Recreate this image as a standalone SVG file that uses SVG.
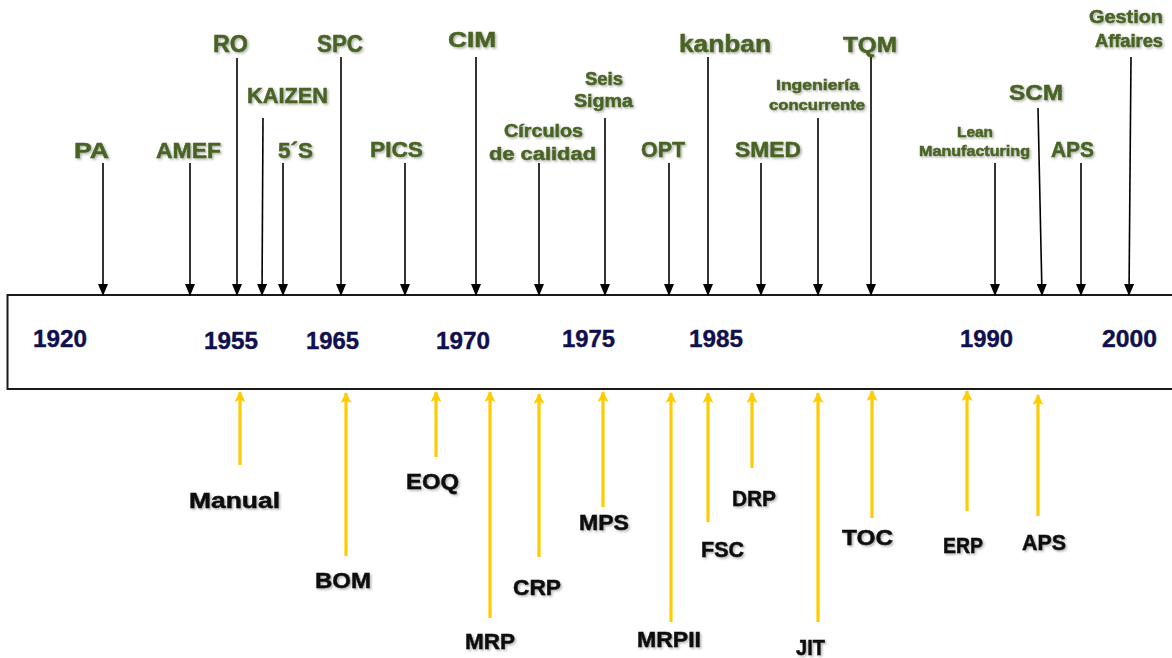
<svg xmlns="http://www.w3.org/2000/svg" width="1172" height="658" viewBox="0 0 1172 658">
<defs>
<style>
.g{font-family:"Liberation Sans",Arial,sans-serif;font-weight:bold;fill:#4a6425;stroke:#4a6425;stroke-width:0.5;filter:url(#sh)}
.k{font-family:"Liberation Sans",Arial,sans-serif;font-weight:bold;font-size:22px;fill:#111;stroke:#111;stroke-width:0.5;filter:url(#sh)}
.y{font-family:"Liberation Sans",Arial,sans-serif;font-weight:bold;font-size:24px;fill:#10104f;stroke:#10104f;stroke-width:0.4}
.ba{stroke:#000;stroke-width:1.6;fill:none;marker-end:url(#mb)}
.ya{stroke:#ffcc00;stroke-width:3.2;fill:none;marker-end:url(#my)}
</style>
<filter id="sh" x="-10%" y="-20%" width="130%" height="150%">
<feDropShadow dx="1.5" dy="1.5" stdDeviation="0.9" flood-color="#000" flood-opacity="0.3"/>
</filter>
<marker id="mb" viewBox="0 0 12 10" refX="11" refY="5" markerWidth="12" markerHeight="10" markerUnits="userSpaceOnUse" orient="auto">
<path d="M0,0 L12,5 L0,10 z" fill="#000"/>
</marker>
<marker id="my" viewBox="0 0 11 11" refX="10" refY="5.5" markerWidth="11" markerHeight="11" markerUnits="userSpaceOnUse" orient="auto">
<path d="M0,0 L11,5.5 L0,11 L2.5,5.5 z" fill="#ffcc00"/>
</marker>
</defs>
<rect width="1172" height="658" fill="#fff"/>
<g id="timeline">
<rect x="7.5" y="295" width="1175" height="94" fill="#fff" stroke="#1a1a1a" stroke-width="2"/>
</g>
<g id="years">
<text class="y" x="33" y="347" textLength="54" lengthAdjust="spacingAndGlyphs">1920</text>
<text class="y" x="204" y="349" textLength="54" lengthAdjust="spacingAndGlyphs">1955</text>
<text class="y" x="306" y="349" textLength="53" lengthAdjust="spacingAndGlyphs">1965</text>
<text class="y" x="436" y="349" textLength="54" lengthAdjust="spacingAndGlyphs">1970</text>
<text class="y" x="562" y="347" textLength="53" lengthAdjust="spacingAndGlyphs">1975</text>
<text class="y" x="689" y="347" textLength="54" lengthAdjust="spacingAndGlyphs">1985</text>
<text class="y" x="960" y="347" textLength="53" lengthAdjust="spacingAndGlyphs">1990</text>
<text class="y" x="1102" y="347" textLength="55" lengthAdjust="spacingAndGlyphs">2000</text>
</g>
<g id="connectors">
<line class="ba" x1="103" y1="163" x2="103" y2="295"/>
<line class="ba" x1="190" y1="163" x2="190" y2="295"/>
<line class="ba" x1="237" y1="58" x2="237" y2="295"/>
<line class="ba" x1="263" y1="118" x2="262" y2="295"/>
<line class="ba" x1="283" y1="163" x2="283" y2="295"/>
<line class="ba" x1="341" y1="57" x2="341" y2="295"/>
<line class="ba" x1="405" y1="163" x2="405" y2="295"/>
<line class="ba" x1="476" y1="57" x2="476" y2="295"/>
<line class="ba" x1="539" y1="163" x2="539" y2="295"/>
<line class="ba" x1="605" y1="118" x2="605" y2="295"/>
<line class="ba" x1="669" y1="163" x2="669" y2="295"/>
<line class="ba" x1="708" y1="57" x2="708" y2="295"/>
<line class="ba" x1="761" y1="163" x2="761" y2="295"/>
<line class="ba" x1="818" y1="118" x2="818" y2="295"/>
<line class="ba" x1="871" y1="57" x2="871" y2="295"/>
<line class="ba" x1="995" y1="163" x2="995" y2="295"/>
<line class="ba" x1="1038" y1="108" x2="1042" y2="295"/>
<line class="ba" x1="1081" y1="163" x2="1081" y2="295"/>
<line class="ba" x1="1131" y1="57" x2="1129" y2="295"/>
<line class="ya" x1="240" y1="465" x2="240" y2="392"/>
<line class="ya" x1="346" y1="556" x2="346" y2="393"/>
<line class="ya" x1="436" y1="457" x2="436" y2="392"/>
<line class="ya" x1="490" y1="618" x2="490" y2="392"/>
<line class="ya" x1="539" y1="557" x2="539" y2="394"/>
<line class="ya" x1="603" y1="507" x2="603" y2="392"/>
<line class="ya" x1="671" y1="622" x2="671" y2="393"/>
<line class="ya" x1="708" y1="522" x2="708" y2="393"/>
<line class="ya" x1="752" y1="468" x2="752" y2="393"/>
<line class="ya" x1="818" y1="622" x2="818" y2="393"/>
<line class="ya" x1="872" y1="518" x2="872" y2="391"/>
<line class="ya" x1="967" y1="511" x2="967" y2="391"/>
<line class="ya" x1="1038" y1="516" x2="1038" y2="395"/>
</g>
<g id="top-labels">
<g id="n-pa"><text class="g" font-size="22" x="74" y="158" textLength="35" lengthAdjust="spacingAndGlyphs">PA</text></g>
<g id="n-amef"><text class="g" font-size="22" x="156" y="158" textLength="65" lengthAdjust="spacingAndGlyphs">AMEF</text></g>
<g id="n-ro"><text class="g" font-size="23" x="213" y="52" textLength="35" lengthAdjust="spacingAndGlyphs">RO</text></g>
<g id="n-kaizen"><text class="g" font-size="22" x="247" y="103" textLength="81" lengthAdjust="spacingAndGlyphs">KAIZEN</text></g>
<g id="n-5s"><text class="g" font-size="22" x="278" y="158" textLength="35" lengthAdjust="spacingAndGlyphs">5´S</text></g>
<g id="n-spc"><text class="g" font-size="23" x="317" y="52" textLength="46" lengthAdjust="spacingAndGlyphs">SPC</text></g>
<g id="n-pics"><text class="g" font-size="22" x="370" y="157" textLength="53" lengthAdjust="spacingAndGlyphs">PICS</text></g>
<g id="n-cim"><text class="g" font-size="22" x="448" y="47" textLength="48" lengthAdjust="spacingAndGlyphs">CIM</text></g>
<g id="n-circulos"><text class="g" font-size="18" x="504" y="137" textLength="79" lengthAdjust="spacingAndGlyphs">Círculos</text><text class="g" font-size="18" x="489" y="160" textLength="107" lengthAdjust="spacingAndGlyphs">de calidad</text></g>
<g id="n-seis"><text class="g" font-size="18" x="585" y="85" textLength="38" lengthAdjust="spacingAndGlyphs">Seis</text><text class="g" font-size="18" x="574" y="107" textLength="59" lengthAdjust="spacingAndGlyphs">Sigma</text></g>
<g id="n-opt"><text class="g" font-size="22" x="641" y="157" textLength="44" lengthAdjust="spacingAndGlyphs">OPT</text></g>
<g id="n-kanban"><text class="g" font-size="23" x="679" y="52" textLength="92" lengthAdjust="spacingAndGlyphs">kanban</text></g>
<g id="n-smed"><text class="g" font-size="22" x="735" y="157" textLength="66" lengthAdjust="spacingAndGlyphs">SMED</text></g>
<g id="n-ing"><text class="g" font-size="15" x="776" y="90" textLength="83" lengthAdjust="spacingAndGlyphs">Ingeniería</text><text class="g" font-size="15" x="769" y="110" textLength="96" lengthAdjust="spacingAndGlyphs">concurrente</text></g>
<g id="n-tqm"><text class="g" font-size="22" x="843" y="52" textLength="54" lengthAdjust="spacingAndGlyphs">TQM</text></g>
<g id="n-lean"><text class="g" font-size="15" x="957" y="137" textLength="36" lengthAdjust="spacingAndGlyphs">Lean</text><text class="g" font-size="15" x="919" y="156" textLength="111" lengthAdjust="spacingAndGlyphs">Manufacturing</text></g>
<g id="n-scm"><text class="g" font-size="22" x="1009" y="100" textLength="54" lengthAdjust="spacingAndGlyphs">SCM</text></g>
<g id="n-aps-top"><text class="g" font-size="22" x="1051" y="157" textLength="43" lengthAdjust="spacingAndGlyphs">APS</text></g>
<g id="n-gestion"><text class="g" font-size="18" x="1089" y="23" textLength="74" lengthAdjust="spacingAndGlyphs">Gestion</text><text class="g" font-size="18" x="1095" y="47" textLength="68" lengthAdjust="spacingAndGlyphs">Affaires</text></g>
</g>
<g id="bottom-labels">
<g id="n-manual"><text class="k" x="189" y="508" textLength="91" lengthAdjust="spacingAndGlyphs">Manual</text></g>
<g id="n-bom"><text class="k" x="315" y="588" textLength="56" lengthAdjust="spacingAndGlyphs">BOM</text></g>
<g id="n-eoq"><text class="k" x="406" y="489" textLength="53" lengthAdjust="spacingAndGlyphs">EOQ</text></g>
<g id="n-mrp"><text class="k" x="465" y="649" textLength="50" lengthAdjust="spacingAndGlyphs">MRP</text></g>
<g id="n-crp"><text class="k" x="513" y="595" textLength="48" lengthAdjust="spacingAndGlyphs">CRP</text></g>
<g id="n-mps"><text class="k" x="579" y="530" textLength="50" lengthAdjust="spacingAndGlyphs">MPS</text></g>
<g id="n-mrpii"><text class="k" x="637" y="647" textLength="64" lengthAdjust="spacingAndGlyphs">MRPII</text></g>
<g id="n-fsc"><text class="k" x="701" y="557" textLength="43" lengthAdjust="spacingAndGlyphs">FSC</text></g>
<g id="n-drp"><text class="k" x="732" y="506" textLength="44" lengthAdjust="spacingAndGlyphs">DRP</text></g>
<g id="n-jit"><text class="k" x="796" y="655" textLength="29" lengthAdjust="spacingAndGlyphs">JIT</text></g>
<g id="n-toc"><text class="k" x="842" y="545" textLength="51" lengthAdjust="spacingAndGlyphs">TOC</text></g>
<g id="n-erp"><text class="k" x="943" y="553" textLength="40" lengthAdjust="spacingAndGlyphs">ERP</text></g>
<g id="n-aps"><text class="k" x="1022" y="550" textLength="44" lengthAdjust="spacingAndGlyphs">APS</text></g>
</g>
</svg>
